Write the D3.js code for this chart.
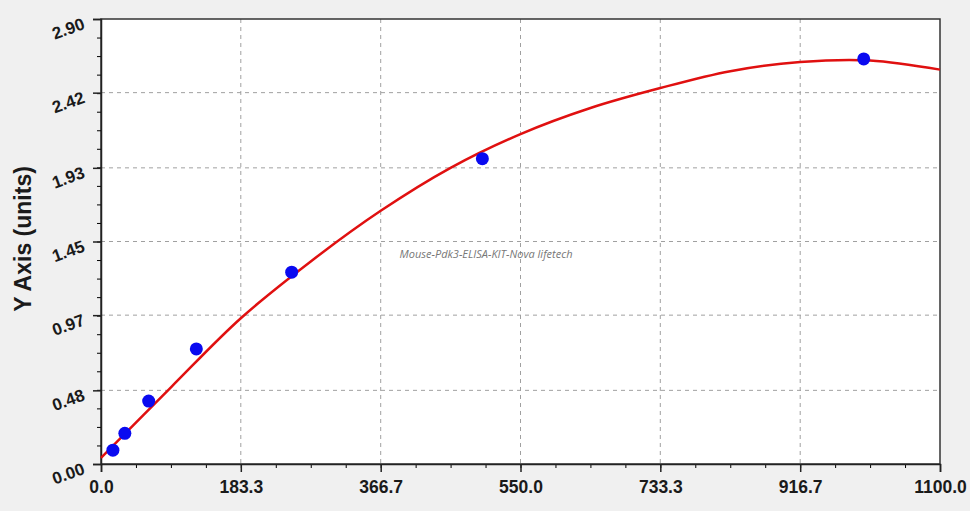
<!DOCTYPE html>
<html>
<head>
<meta charset="utf-8">
<script src="https://cdn.jsdelivr.net/npm/d3@7"></script>
<style>
  body { margin: 0; background: #f0f0f0; }
  svg { display: block; font-family: "Liberation Sans", Arial, sans-serif; }
  .tick text { font-weight: bold; fill: #1a1a1a; }
</style>
</head>
<body>
<svg id="chart" width="970" height="511"></svg>
<script>
// standards (x) and measured OD (y)
const standardX = [15.6, 31.25, 62.5, 125, 250, 500, 1000]
const standardY = [0.09, 0.20, 0.41, 0.75, 1.25, 1.99, 2.64]

// fitted curve
const curveX = [0, 91.7, 183.3, 275, 366.7, 458.3, 550, 641.7, 733.3, 825, 916.7, 1008.3, 1100]
const curveY = [0.04, 0.50, 0.95, 1.32, 1.65, 1.93, 2.15, 2.32, 2.45, 2.56, 2.62, 2.63, 2.57]

const xTicks = [0, 183.3, 366.7, 550, 733.3, 916.7, 1100]
const yTicks = [0, 0.48, 0.97, 1.45, 1.93, 2.42, 2.90]

const svg = d3.select('#chart')
const pLeft = 101, pRight = 940, pTop = 19, pBottom = 464

const x = d3.scaleLinear().domain([0, 1100]).range([pLeft, pRight])
const y = d3.scaleLinear().domain([0, 2.9]).range([pBottom, pTop])

// plot background
svg.append('rect')
    .attr('x', pLeft).attr('y', pTop)
    .attr('width', pRight - pLeft).attr('height', pBottom - pTop)
    .attr('fill', '#fff')

// grid
const grid = svg.append('g').attr('stroke', '#a0a0a0').attr('stroke-dasharray', '4,4').attr('stroke-width', 1)
grid.selectAll('line.gx').data(xTicks.slice(1, -1)).join('line')
    .attr('x1', d => x(d)).attr('x2', d => x(d)).attr('y1', pTop).attr('y2', pBottom)
grid.selectAll('line.gy').data(yTicks.slice(1, -1)).join('line')
    .attr('y1', d => y(d)).attr('y2', d => y(d)).attr('x1', pLeft).attr('x2', pRight)

// frame
svg.append('rect')
    .attr('x', pLeft).attr('y', pTop)
    .attr('width', pRight - pLeft).attr('height', pBottom - pTop)
    .attr('fill', 'none').attr('stroke', '#333').attr('stroke-width', 1.5)

// minor ticks
const xMinor = d3.range(0, 24).map(i => i * 1100 / 24)
const yMinor = d3.range(0, 24).map(i => i * 2.9 / 24)
svg.append('g').attr('transform', `translate(0,${pBottom})`)
    .call(d3.axisBottom(x).tickValues(xMinor).tickSize(4).tickFormat(''))
    .call(g => g.select('.domain').remove())
svg.append('g').attr('transform', `translate(${pLeft},0)`)
    .call(d3.axisLeft(y).tickValues(yMinor).tickSize(4).tickFormat(''))
    .call(g => g.select('.domain').remove())

// major axes
const xAxis = svg.append('g').attr('transform', `translate(0,${pBottom})`)
    .call(d3.axisBottom(x).tickValues(xTicks).tickSize(8).tickPadding(9).tickFormat(d3.format('.1f')))
xAxis.selectAll('text').style('font-size', '17.5px')
xAxis.select('.domain').attr('stroke', '#222').attr('stroke-width', 1.5)
xAxis.selectAll('.tick line').attr('stroke', '#222').attr('stroke-width', 1.5)

const yAxis = svg.append('g').attr('transform', `translate(${pLeft},0)`)
    .call(d3.axisLeft(y).tickValues(yTicks).tickSize(8).tickPadding(9).tickFormat(d3.format('.2f')))
yAxis.select('.domain').attr('stroke', '#222').attr('stroke-width', 1.5)
yAxis.selectAll('.tick line').attr('stroke', '#222').attr('stroke-width', 1.5)
yAxis.selectAll('.tick text')
    .style('font-size', '17px')
    .attr('dy', '0.55em')
    .attr('transform', 'rotate(-20,-17,4)')

// Y title
svg.append('text')
    .attr('transform', 'translate(31,239) rotate(-90)')
    .attr('text-anchor', 'middle')
    .style('font-size', '23px').style('font-weight', 'bold').attr('fill', '#1a1a1a')
    .text('Y Axis (units)')

// watermark
svg.append('text')
    .attr('x', 486).attr('y', 258)
    .attr('text-anchor', 'middle')
    .style('font-family', '"Open Sans", sans-serif')
    .style('font-size', '11px').style('font-style', 'italic').attr('fill', '#777')
    .text('Mouse-Pdk3-ELISA-KIT-Nova lifetech')

// fitted curve
const curve = curveX.map((d, i) => [d, curveY[i]])
svg.append('path')
    .datum(curve)
    .attr('fill', 'none').attr('stroke', '#e01010').attr('stroke-width', 2.5)
    .attr('d', d3.line().x(d => x(d[0])).y(d => y(d[1])).curve(d3.curveCatmullRom))

// points
svg.append('g').selectAll('circle')
    .data(standardX.map((d, i) => [d, standardY[i]]))
    .join('circle')
    .attr('cx', d => x(d[0])).attr('cy', d => y(d[1]))
    .attr('r', 6.5).attr('fill', '#0a0af0')
</script>
</body>
</html>
